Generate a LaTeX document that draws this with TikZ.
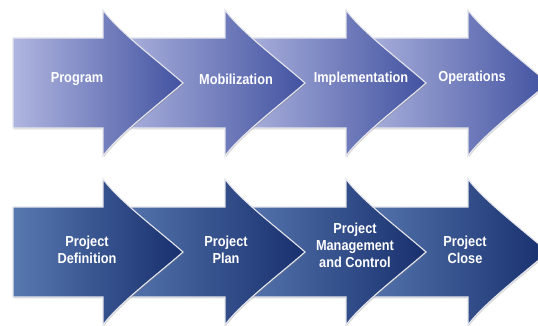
\documentclass[tikz,border=0pt]{standalone}
\usepackage{fontspec}
\setmainfont{Liberation Sans}
\usetikzlibrary{shadows}
\definecolor{tl}{HTML}{B0B6E0}
\definecolor{tr}{HTML}{4252A0}
\definecolor{bl}{HTML}{5878B0}
\definecolor{br}{HTML}{18306E}
\definecolor{edge}{HTML}{E4E6EC}
\tikzset{
  arrowshape/.style={draw=edge, line width=1.1pt, line join=miter,
    drop shadow={opacity=0.3, shadow xshift=0.8pt, shadow yshift=-1.4pt}},
  toprow/.style={arrowshape, left color=tl, right color=tr},
  botrow/.style={arrowshape, left color=bl, right color=br},
  lbl/.style={text=white, font=\bfseries\fontsize{14.5}{17}\selectfont,
    xscale=0.88, align=center, inner sep=0pt},
}
% #1 style, #2 left x, #3 head base x, #4 centre y
\newcommand\chevshape[4]{%
  \path[#1] (#2,#4-45) -- (#3,#4-45) -- (#3,#4-73)
    .. controls (#3+15,#4-52) and (#3+55,#4-22) .. (#3+80,#4)
    .. controls (#3+55,#4+22) and (#3+15,#4+52) .. (#3,#4+73)
    -- (#3,#4+45) -- (#2,#4+45) -- cycle;}
\begin{document}
\begin{tikzpicture}[x=1pt,y=-1pt]
\useasboundingbox (0,0) rectangle (538,326);
\fill[white] (0,0) rectangle (538,326);
\clip (0,0) rectangle (538,326);
% top row (drawn right to left so each head lies over the next body)
\chevshape{toprow}{355}{468}{83}
\chevshape{toprow}{235}{346}{83}
\chevshape{toprow}{113}{225}{83}
\chevshape{toprow}{13}{103}{83}
% bottom row
\chevshape{botrow}{355}{468}{252}
\chevshape{botrow}{235}{346}{252}
\chevshape{botrow}{113}{225}{252}
\chevshape{botrow}{13}{103}{252}
% labels
\node[lbl] (program) at (77,79) {Program};
\node[lbl] (mobil) at (236,79) {Mobilization};
\node[lbl] (impl) at (361,79) {Implementation};
\node[lbl] (oper) at (472,78) {Operations};
\node[lbl] (pdef) at (87,250) {Project\\Definition};
\node[lbl] (pplan) at (226,250) {Project\\Plan};
\node[lbl] (pmgmt) at (355,245) {Project\\Management\\and Control};
\node[lbl] (pclose) at (465,250) {Project\\Close};
\end{tikzpicture}
\end{document}
